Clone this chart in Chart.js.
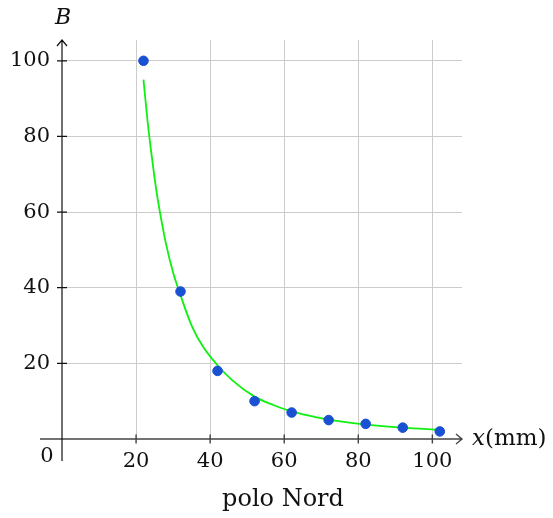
<!DOCTYPE html>
<html>
<head>
<meta charset="utf-8">
<script src="https://cdn.jsdelivr.net/npm/chart.js@4/dist/chart.umd.min.js"></script>
<style>
    body { margin: 0; background: #fff; }
    #wrap { width: 553px; height: 518px; }
</style>
</head>
<body>
<div id="wrap"><canvas id="chart" width="553" height="518"></canvas></div>
<script>
var xPoints = [22, 32, 42, 52, 62, 72, 82, 92, 102];
var bPoints = [100, 39, 18, 10, 7, 5, 4, 3, 2];

var fitX = [22, 23, 24, 25, 26, 28, 30, 32, 35, 38, 42, 46, 52, 57, 62, 67, 72, 82, 92, 102];
var fitB = [95, 85, 76.5, 69, 62.5, 52, 44, 38, 30, 24.5, 19.5, 15.5, 11.2, 9, 7.3, 6.1, 5.1, 3.8, 3.0, 2.4];

var tickValues = [20, 40, 60, 80, 100];
var chartTitle = 'polo Nord';

var FONT = '"DejaVu Serif", serif';

function toPairs(xs, ys) {
    var out = [];
    for (var i = 0; i < xs.length; i++) {
        out.push({x: xs[i], y: ys[i]});
    }
    return out;
}

function keepTicks(scale) {
    scale.ticks = tickValues.map(function (v) { return {value: v}; });
}

var axesPlugin = {
    id: 'axes',
    beforeDatasetsDraw: function (chart) {
        var ctx = chart.ctx;
        var xs = chart.scales.x;
        var ys = chart.scales.y;
        var x0 = xs.getPixelForValue(0);
        var y0 = ys.getPixelForValue(0);
        var xEnd = xs.right;
        var yTop = ys.top;

        ctx.save();
        // asse x
        ctx.strokeStyle = '#444';
        ctx.lineWidth = 1.4;
        ctx.beginPath();
        ctx.moveTo(x0 - 22, y0);
        ctx.lineTo(xEnd, y0);
        ctx.moveTo(xEnd - 6, y0 - 5);
        ctx.lineTo(xEnd, y0);
        ctx.lineTo(xEnd - 6, y0 + 5);
        for (var i = 0; i < tickValues.length; i++) {
            var px = xs.getPixelForValue(tickValues[i]);
            ctx.moveTo(px, y0 - 4.5);
            ctx.lineTo(px, y0 + 4.5);
        }
        ctx.stroke();

        // asse y
        ctx.strokeStyle = '#111';
        ctx.lineWidth = 1.2;
        ctx.beginPath();
        ctx.moveTo(x0, y0 + 22);
        ctx.lineTo(x0, yTop);
        ctx.moveTo(x0 - 5, yTop + 6);
        ctx.lineTo(x0, yTop);
        ctx.lineTo(x0 + 5, yTop + 6);
        for (var j = 0; j < tickValues.length; j++) {
            var py = ys.getPixelForValue(tickValues[j]);
            ctx.moveTo(x0 - 5, py);
            ctx.lineTo(x0 + 5, py);
        }
        ctx.stroke();

        // testi
        ctx.fillStyle = '#111';
        ctx.textBaseline = 'middle';
        ctx.textAlign = 'center';
        ctx.font = 'italic 22px ' + FONT;
        ctx.fillText('B', x0 + 1, 18);

        ctx.font = '21px ' + FONT;
        ctx.fillText('0', x0 - 15, y0 + 18);

        ctx.textAlign = 'left';
        ctx.font = 'italic 23px ' + FONT;
        var lx = xEnd + 10;
        ctx.fillText('x', lx, y0);
        var w = ctx.measureText('x').width;
        ctx.font = '23px ' + FONT;
        ctx.fillText('(mm)', lx + w, y0);

        ctx.textAlign = 'center';
        ctx.font = '24px ' + FONT;
        ctx.fillText(chartTitle, 283, 500);
        ctx.restore();
    }
};

var ctx = document.getElementById('chart');
var chart = new Chart(ctx, {
    type: 'scatter',
    data: {
        datasets: [{
            data: toPairs(xPoints, bPoints),
            backgroundColor: '#1a50d2',
            borderColor: '#1a50d2',
            pointRadius: 4.8,
            showLine: false
        }, {
            data: toPairs(fitX, fitB),
            borderColor: '#10f010',
            borderWidth: 1.8,
            pointRadius: 0,
            showLine: true,
            cubicInterpolationMode: 'monotone'
        }]
    },
    options: {
        responsive: false,
        animation: false,
        layout: {
            padding: {left: 0, right: 91, top: 40, bottom: 0}
        },
        plugins: {
            legend: {display: false},
            tooltip: {enabled: false}
        },
        scales: {
            x: {
                type: 'linear',
                min: 0,
                max: 108,
                afterBuildTicks: keepTicks,
                afterFit: function (scale) { scale.height = 79; },
                border: {display: false},
                grid: {color: '#cccccc', lineWidth: 1, drawTicks: false},
                ticks: {
                    padding: 10,
                    color: '#111',
                    font: {family: FONT, size: 21},
                    maxRotation: 0
                }
            },
            y: {
                type: 'linear',
                min: 0,
                max: 105.5,
                afterBuildTicks: keepTicks,
                afterFit: function (scale) { scale.width = 62; },
                border: {display: false},
                grid: {color: '#cccccc', lineWidth: 1, drawTicks: false},
                ticks: {
                    padding: 12,
                    color: '#111',
                    font: {family: FONT, size: 21}
                }
            }
        }
    },
    plugins: [axesPlugin]
});
</script>
</body>
</html>
